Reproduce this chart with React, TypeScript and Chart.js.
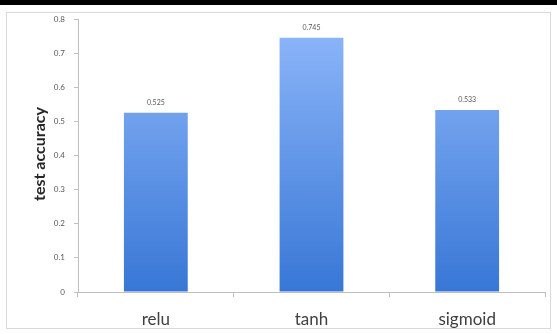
import React, { useEffect, useRef } from "react";
import { Chart, registerables } from "chart.js";

Chart.register(...registerables);

const categories = ["relu", "tanh", "sigmoid"];
const accuracy = [0.525, 0.745, 0.533];
const valueLabels = ["0.525", "0.745", "0.533"];
const yTickLabels = ["0", "0.1", "0.2", "0.3", "0.4", "0.5", "0.6", "0.7", "0.8"];
const yTitle = "test accuracy";

const framePlugin = {
  id: "frame",
  beforeDraw(chart: any) {
    const { ctx, width, height } = chart;
    ctx.save();
    ctx.fillStyle = "#ffffff";
    ctx.fillRect(0, 0, width, height);
    ctx.fillStyle = "#000000";
    ctx.fillRect(0, 0, width, 5);
    ctx.strokeStyle = "#d9d9d9";
    ctx.lineWidth = 1;
    ctx.strokeRect(6.5, 12.5, width - 13, height - 18);
    ctx.restore();
  },
  afterDraw(chart: any) {
    const { ctx } = chart;
    const meta = chart.getDatasetMeta(0);
    ctx.save();
    ctx.fillStyle = "#595959";
    ctx.font = "7px Lato, 'Open Sans', sans-serif";
    ctx.textAlign = "center";
    ctx.textBaseline = "bottom";
    meta.data.forEach((bar: any, i: number) => {
      ctx.fillText(valueLabels[i], bar.x, bar.y - 7);
    });
    ctx.translate(40, 154);
    ctx.rotate(-Math.PI / 2);
    ctx.fillStyle = "#262626";
    ctx.font = "bold 16px Lato, 'Open Sans', sans-serif";
    ctx.textBaseline = "middle";
    ctx.fillText(yTitle, 0, 0);
    ctx.restore();
  },
};

export default function App() {
  const ref = useRef<HTMLCanvasElement>(null);
  useEffect(() => {
    document.body.style.margin = "0";
    const canvas = ref.current!;
    const chart = new Chart(canvas, {
      type: "bar",
      data: {
        labels: categories,
        datasets: [
          {
            data: accuracy,
            backgroundColor: (c: any) => {
              const area = c.chart.chartArea;
              if (!area) return "#5a8fe6";
              const g = c.chart.ctx.createLinearGradient(0, area.top, 0, area.bottom);
              g.addColorStop(0, "#8fb8fa");
              g.addColorStop(1, "#3877d6");
              return g;
            },
            borderWidth: 0,
            categoryPercentage: 1,
            barPercentage: 0.41,
          },
        ],
      },
      options: {
        responsive: false,
        animation: false,
        devicePixelRatio: 1,
        layout: { padding: { left: 8, right: 12, top: 19, bottom: 0 } },
        plugins: { legend: { display: false }, tooltip: { enabled: false } },
        scales: {
          x: {
            offset: true,
            grid: { offset: true, drawOnChartArea: false, drawTicks: true, tickLength: 5, color: "#bfbfbf" },
            border: { color: "#bfbfbf" },
            ticks: {
              color: "#404040",
              font: { family: "Lato, 'Open Sans', sans-serif", size: 17 },
              padding: 12,
              maxRotation: 0,
            },
            afterFit: (s: any) => {
              s.height = 42;
            },
          },
          y: {
            min: 0,
            max: 0.8,
            ticks: {
              stepSize: 0.1,
              color: "#595959",
              font: { family: "Lato, 'Open Sans', sans-serif", size: 8 },
              padding: 9,
              callback: (_v: any, i: number) => yTickLabels[i],
            },
            grid: { drawOnChartArea: false, drawTicks: true, tickLength: 4, color: "#bfbfbf" },
            border: { color: "#bfbfbf" },
            afterFit: (s: any) => {
              s.width = 70;
            },
          },
        },
      },
      plugins: [framePlugin],
    });
    return () => chart.destroy();
  }, []);
  return <canvas ref={ref} width={557} height={334} style={{ display: "block" }} />;
}
